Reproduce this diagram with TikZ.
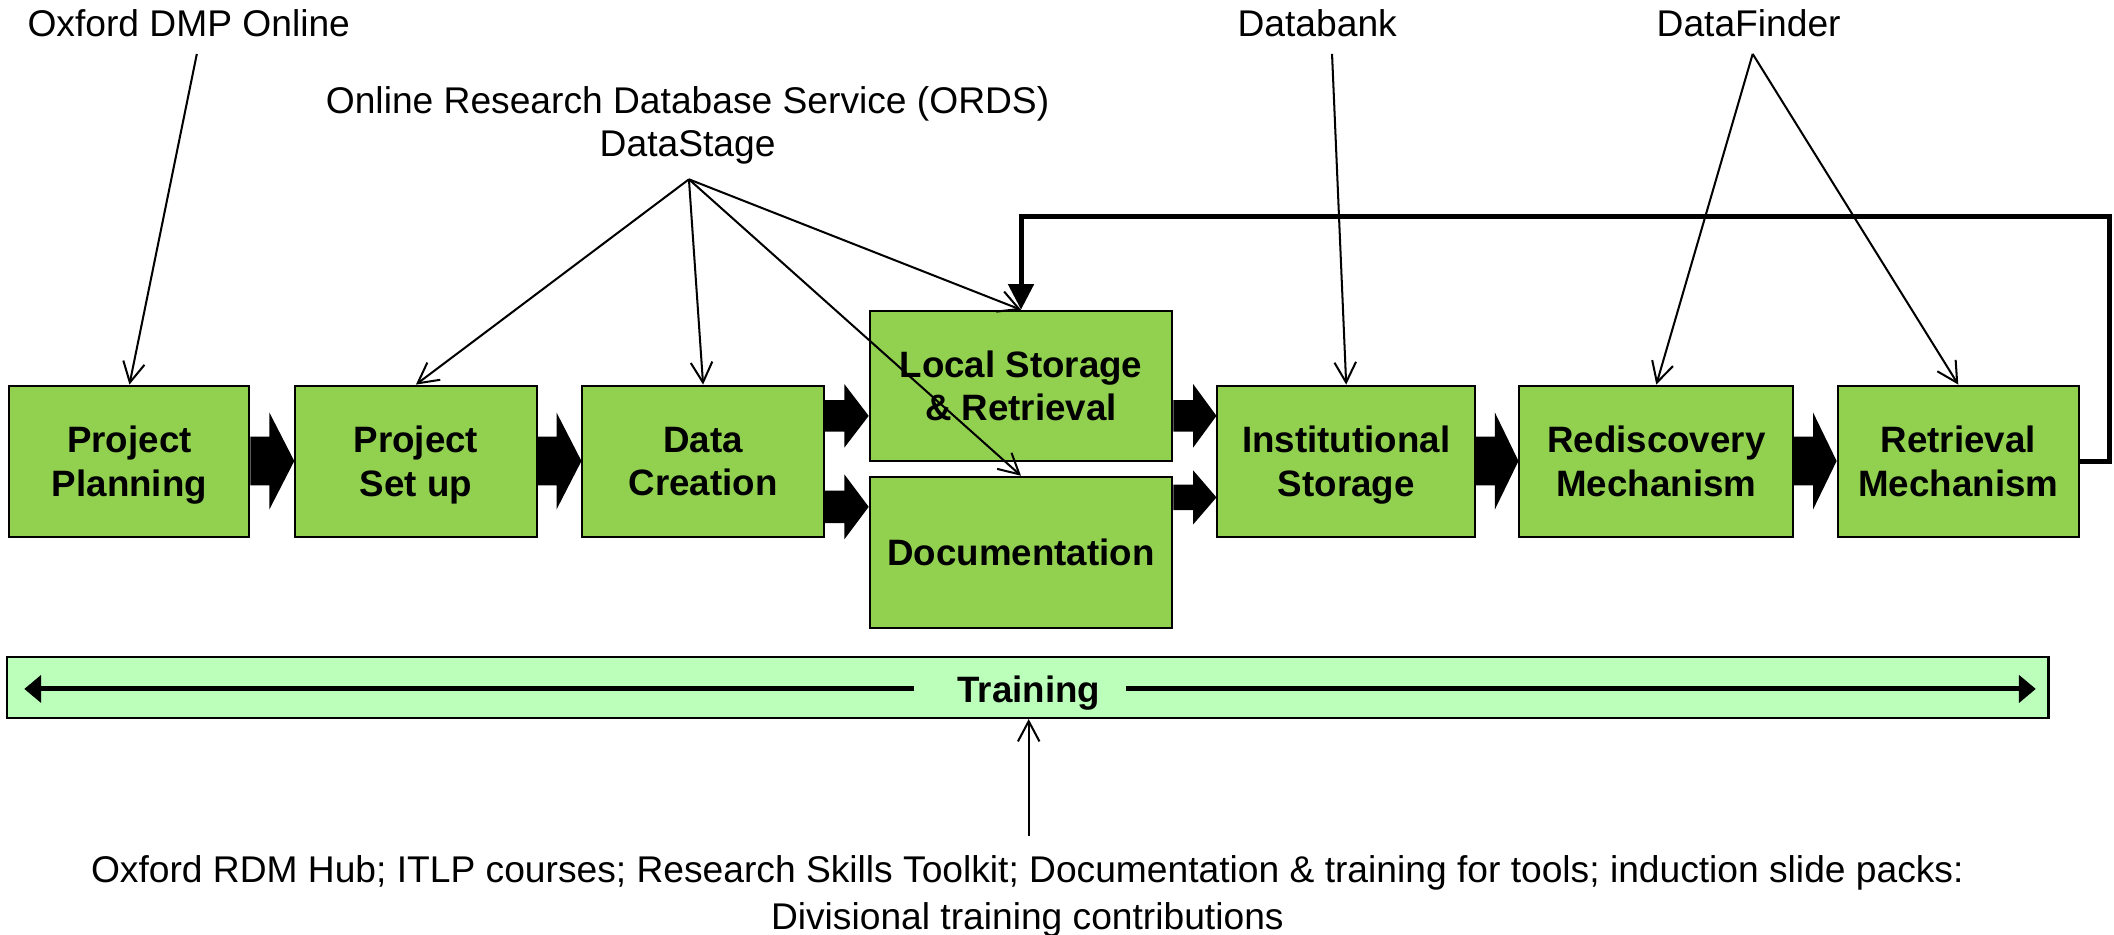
\documentclass[tikz,border=0pt]{standalone}
\usepackage{fontspec}
\setmainfont{Liberation Sans}
\usetikzlibrary{arrows.meta,calc}
\definecolor{boxgreen}{HTML}{92D050}
\definecolor{traingreen}{HTML}{BBFFBB}
% block arrow: from node, to node, y centre, shaft half, head half, head length
\newcommand\blockarr[6]{%
  \fill let \p1=(#1.east), \p2=(#2.west) in
    (\x1,#3+#4) -- (\x2-#6,#3+#4) -- (\x2-#6,#3+#5) -- (\x2,#3) --
    (\x2-#6,#3-#5) -- (\x2-#6,#3-#4) -- (\x1,#3-#4) -- cycle;}
\begin{document}
\begin{tikzpicture}[x=0.02cm,y=-0.02cm,
  stage/.style={draw=black, line width=0.85pt, fill=boxgreen, inner sep=0pt,
    minimum height=2.24cm, align=center, text depth=0pt,
    font=\fontsize{15.5}{18.3}\selectfont\bfseries},
  lbl/.style={inner sep=0pt, align=center, font=\fontsize{15.7}{18.2}\selectfont},
  thinarr/.style={line width=0.03cm, -{Straight Barb[length=0.3cm,width=0.32cm]}},
  fbarr/.style={line width=0.074cm, -{Triangle[length=0.38cm,width=0.37cm]}},
  trarr/.style={line width=0.074cm, -{Triangle[length=0.25cm,width=0.4cm]}}]
\useasboundingbox (0,0) rectangle (1568,693);

% stages
\node[stage, minimum width=3.56cm] (pp) at (96,342) {Project\\Planning};
\node[stage, minimum width=3.58cm] (psu) at (308.5,342) {Project\\Set up};
\node[stage, minimum width=3.58cm] (dc) at (521.5,342) {Data\\Creation};
\node[stage, minimum width=4.49cm, minimum height=2.23cm] (ls) at (757.3,286.25) {Local Storage\\\& Retrieval};
\node[stage, minimum width=4.49cm] (doc) at (757.3,409.6) {Documentation};
\node[stage, minimum width=3.82cm] (is) at (998.5,342) {Institutional\\Storage};
\node[stage, minimum width=4.06cm] (rm) at (1228.5,342) {Rediscovery\\Mechanism};
\node[stage, minimum width=3.58cm] (retm) at (1452.5,342) {Retrieval\\Mechanism};

% block arrows
\blockarr{pp}{psu}{-6.84cm}{0.36cm}{0.72cm}{0.37cm}
\blockarr{psu}{dc}{-6.84cm}{0.36cm}{0.72cm}{0.37cm}
\blockarr{dc}{ls}{-6.17cm}{0.235cm}{0.47cm}{0.36cm}
\blockarr{dc}{doc}{-7.52cm}{0.24cm}{0.48cm}{0.36cm}
\blockarr{ls}{is}{-6.17cm}{0.235cm}{0.47cm}{0.345cm}
\blockarr{doc}{is}{-7.38cm}{0.19cm}{0.40cm}{0.345cm}
\blockarr{is}{rm}{-6.84cm}{0.36cm}{0.72cm}{0.35cm}
\blockarr{rm}{retm}{-6.84cm}{0.36cm}{0.72cm}{0.35cm}

% training bar
\node[draw=black, line width=0.85pt, fill=traingreen, minimum width=30.29cm,
  minimum height=0.9cm, inner sep=0pt] (train) at (762.3,510.1) {};
\node[lbl, font=\fontsize{15.5}{18.5}\selectfont\bfseries] (ttext) at (763,514) {Training};
\coordinate (tl0) at (678,511);
\coordinate (tl1) at (18,511);
\coordinate (tr0) at (835,511);
\coordinate (tr1) at (1510,511);
\draw[trarr] (tl0) -- (tl1);
\draw[trarr] (tr0) -- (tr1);

% labels
\node[lbl] (oxdmp) at (140,17) {Oxford DMP Online};
\node[lbl] (ords) at (510,92.7) {Online Research Database Service (ORDS)\\DataStage};
\node[lbl] (databank) at (977,17) {Databank};
\node[lbl] (datafinder) at (1297,17) {DataFinder};
\node[lbl, font=\fontsize{15.7}{19.9}\selectfont] (hub) at (762,665)
  {Oxford RDM Hub; ITLP courses; Research Skills Toolkit; Documentation \& training for tools; induction slide packs:\\Divisional training contributions};

% connector start points
\coordinate (oxs) at (146,40);
\coordinate (fan) at (511,133);
\coordinate (dbs) at (988,40);
\coordinate (dfs) at (1300,40);
\coordinate (fb) at (1565,160.7);
\coordinate (hubs) at (763,620);

% connectors
\draw[thinarr] (oxs) -- (pp.north);
\foreach \t in {psu,dc,ls,doc} \draw[thinarr] (fan) -- (\t.north);
\draw[thinarr] (dbs) -- (is.north);
\draw[thinarr] (dfs) -- (rm.north);
\draw[thinarr] (dfs) -- (retm.north);
\draw[fbarr] (retm.east) -| (fb) -| (ls.north);
\draw[thinarr] (hubs) -- (hubs |- train.south);
\end{tikzpicture}
\end{document}
